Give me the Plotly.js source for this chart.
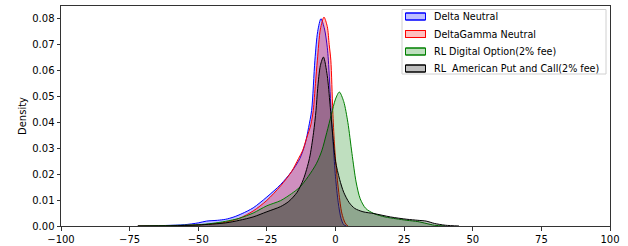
<!DOCTYPE html>
<html>
<head>
<meta charset="utf-8">
<script src="https://cdn.plot.ly/plotly-3.0.1.min.js"></script>
<style>html,body{margin:0;padding:0;background:#fff;}#chart{width:628px;height:246px;}</style>
</head>
<body>
<div id="chart"></div>
<script>
// Series names
const seriesNames = ["Delta Neutral", "DeltaGamma Neutral", "RL Digital Option(2% fee)", "RL  American Put and Call(2% fee)"];

// Delta Neutral KDE
const blueX = [-72, -62, -55, -50, -47, -43, -40, -37, -34, -30, -25, -20, -16, -13, -11, -9.8, -8.7, -7.5, -6.5, -5.3, -4, -3, -2.6, -1.6, -0.8, 0, 1, 2, 3, 4];
const blueY = [0, 0.0002, 0.0005, 0.0012, 0.0019, 0.0022, 0.0026, 0.0035, 0.0048, 0.007, 0.0112, 0.016, 0.021, 0.026, 0.032, 0.038, 0.0446, 0.064, 0.075, 0.080, 0.076, 0.069, 0.064, 0.0446, 0.031, 0.019, 0.009, 0.003, 0.0005, 0];

// DeltaGamma Neutral KDE
const redX = [-72, -60, -50, -45, -40, -35, -30, -25, -20, -16, -13.5, -12, -10.5, -9, -8.1, -7.3, -6.6, -5.5, -4.2, -3, -2.3, -1.7, -1, -0.4, 0.3, 1.2, 2.3, 3.5, 4.5];
const redY = [0, 0.0001, 0.0004, 0.0008, 0.0015, 0.003, 0.0058, 0.0099, 0.0155, 0.021, 0.026, 0.029, 0.034, 0.039, 0.0446, 0.055, 0.064, 0.076, 0.0806, 0.077, 0.070, 0.064, 0.0446, 0.032, 0.022, 0.013, 0.005, 0.0012, 0];

// RL Digital Option KDE
const greenX = [-72, -60, -50, -45, -40, -35, -30, -25, -20, -16, -13, -10, -7, -5, -3.2, -1.5, 0, 1.4, 3, 4.5, 6, 7.5, 9, 11, 14, 18, 22, 26, 30, 33, 36, 40];
const greenY = [0, 0.0002, 0.0005, 0.001, 0.0018, 0.003, 0.005, 0.0078, 0.0098, 0.0125, 0.015, 0.019, 0.024, 0.029, 0.036, 0.043, 0.049, 0.0517, 0.048, 0.040, 0.028, 0.017, 0.0105, 0.0068, 0.0048, 0.0035, 0.0028, 0.0022, 0.0017, 0.001, 0.0003, 0];

// RL American Put and Call KDE
const blackX = [-72, -60, -50, -40, -35, -30, -25, -20, -17, -14, -11.7, -9.5, -8, -7.1, -6.5, -5.5, -4.4, -3, -2, -1, 0, 1.5, 3, 5, 7, 10, 14, 20, 26, 30, 33, 36, 40, 45];
const blackY = [0, 0.0001, 0.0004, 0.0012, 0.0022, 0.0035, 0.0055, 0.0075, 0.0095, 0.013, 0.018, 0.026, 0.036, 0.0446, 0.053, 0.062, 0.0652, 0.058, 0.047, 0.035, 0.025, 0.018, 0.013, 0.009, 0.0068, 0.0055, 0.0048, 0.0035, 0.0026, 0.0022, 0.0019, 0.001, 0.0003, 0];

// Tick labels
const xTickVals = [-100, -75, -50, -25, 0, 25, 50, 75, 100];
const xTickText = ["\u2212100", "\u221275", "\u221250", "\u221225", "0", "25", "50", "75", "100"];
const yTickVals = [0, 0.01, 0.02, 0.03, 0.04, 0.05, 0.06, 0.07, 0.08];
const yTickText = ["0.00", "0.01", "0.02", "0.03", "0.04", "0.05", "0.06", "0.07", "0.08"];

const styles = [
  {line: "rgb(0,0,255)", fill: "rgba(0,0,255,0.25)"},
  {line: "rgb(255,0,0)", fill: "rgba(255,0,0,0.25)"},
  {line: "rgb(0,128,0)", fill: "rgba(0,128,0,0.25)"},
  {line: "rgb(0,0,0)", fill: "rgba(0,0,0,0.25)"}
];
const xs = [blueX, redX, greenX, blackX];
const ys = [blueY, redY, greenY, blackY];

const traces = xs.map((x, i) => ({
  type: "scatter",
  mode: "lines",
  x: x,
  y: ys[i],
  name: seriesNames[i],
  fill: "tozeroy",
  fillcolor: styles[i].fill,
  line: {color: styles[i].line, width: 1, shape: "spline", smoothing: 0.8},
  showlegend: false
}));

const font = {family: "DejaVu Sans, sans-serif", size: 10, color: "#000"};
const legendFont = {family: "DejaVu Sans, sans-serif", size: 9.6, color: "#000"};

// Plot-area geometry (pixels) for the matplotlib-style legend box
const W = 628, H = 246, ML = 61, MR = 18, MT = 6, MB = 20;
const PW = W - ML - MR, PH = H - MT - MB;
const px2x = p => (p - ML) / PW;
const px2y = p => (H - MB - p) / PH;

const shapes = [];
const annotations = [];
shapes.push({type: "rect", xref: "paper", yref: "paper",
  x0: px2x(402), x1: px2x(606), y0: px2y(74), y1: px2y(9.5),
  line: {color: "#d0d0d0", width: 1}, fillcolor: "rgba(255,255,255,0.8)", layer: "above"});
const rowY = [16.5, 34, 51.5, 68.5];
seriesNames.forEach((n, i) => {
  shapes.push({type: "rect", xref: "paper", yref: "paper",
    x0: px2x(405.5), x1: px2x(425.5), y0: px2y(rowY[i] + 3.5), y1: px2y(rowY[i] - 3.5),
    line: {color: styles[i].line, width: 1}, fillcolor: "#fff", layer: "above"});
  shapes.push({type: "rect", xref: "paper", yref: "paper",
    x0: px2x(405.5), x1: px2x(425.5), y0: px2y(rowY[i] + 3.5), y1: px2y(rowY[i] - 3.5),
    line: {color: styles[i].line, width: 1}, fillcolor: styles[i].fill, layer: "above"});
  annotations.push({xref: "paper", yref: "paper", x: px2x(432), y: px2y(rowY[i]),
    xanchor: "left", yanchor: "middle", text: n, showarrow: false, font: legendFont});
});

const layout = {
  width: W,
  height: H,
  margin: {l: ML, r: MR, t: MT, b: MB},
  paper_bgcolor: "#fff",
  plot_bgcolor: "#fff",
  font: font,
  showlegend: false,
  shapes: shapes,
  annotations: annotations,
  xaxis: {
    range: [-100, 100],
    tickvals: xTickVals, ticktext: xTickText,
    showgrid: false, zeroline: false,
    showline: true, mirror: true, linecolor: "#333", linewidth: 1,
    ticks: "outside", ticklen: 3.5, tickcolor: "#333",
    tickfont: font
  },
  yaxis: {
    range: [0, 0.0849],
    tickvals: yTickVals, ticktext: yTickText,
    showgrid: false, zeroline: false,
    showline: true, mirror: true, linecolor: "#333", linewidth: 1,
    ticks: "outside", ticklen: 3.5, tickcolor: "#333",
    tickfont: font,
    title: {text: "Density", font: font, standoff: 3}
  }
};

Plotly.newPlot("chart", traces, layout, {displayModeBar: false, staticPlot: true});
</script>
</body>
</html>
